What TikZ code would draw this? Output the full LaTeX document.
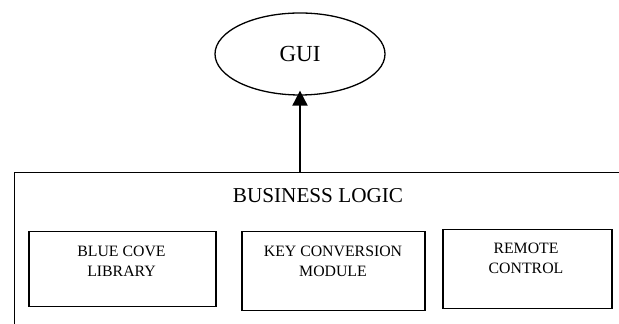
\documentclass[tikz,border=0pt]{standalone}
\usepackage{fontspec}
\setmainfont{Liberation Serif}
\usetikzlibrary{shapes.geometric,arrows.meta}
\tikzset{
  unitbox/.style={draw, line width=0.75pt, rectangle, inner sep=0pt, anchor=north west},
  boxlabel/.style={anchor=north, inner sep=0pt, align=center, font=\fontsize{7.9}{9.7}\selectfont},
  outerbox/.style={draw, line width=0.6pt, rectangle, inner sep=0pt, anchor=north west,
    minimum width=320pt, minimum height=90pt},
  link/.style={line width=1pt, -{Triangle[length=7.5pt, width=7.5pt]}},
}
\begin{document}
\begin{tikzpicture}[x=0.5pt, y=-0.5pt]
  \useasboundingbox (0,0) rectangle (619,324);
  \clip (0,0) rectangle (619,324);

  % top-level GUI
  \node[draw, ellipse, line width=0.65pt, minimum width=85pt, minimum height=41pt,
        inner sep=0pt, font=\fontsize{11.5}{13}\selectfont] (gui) at (300,54) {GUI};

  % business logic container (runs off the right and bottom edges)
  \node[outerbox] (logic) at (14,172) {};
  \node[anchor=base, inner sep=0pt, font=\fontsize{10.6}{12.7}\selectfont]
        (logictitle) at (318,202.5) {BUSINESS LOGIC};

  % component modules
  \node[unitbox, minimum width=93.5pt, minimum height=37.5pt] (bluecove) at (28,231) {};
  \node[unitbox, minimum width=91.5pt, minimum height=39.5pt] (keyconv) at (241,231) {};
  \node[unitbox, minimum width=84.5pt, minimum height=39.5pt] (remote) at (442,229) {};

  \node[boxlabel] (bluecovetext) at (121.5,246) {BLUE COVE\\LIBRARY};
  \node[boxlabel] (keyconvtext) at (333,246) {KEY CONVERSION\\MODULE};
  \node[boxlabel] (remotetext) at (526,243) {REMOTE\\CONTROL};

  % business logic feeds the GUI
  \draw[link, shorten >=-2.5pt] (logic.north -| gui.south) -- (gui.south);
\end{tikzpicture}
\end{document}
